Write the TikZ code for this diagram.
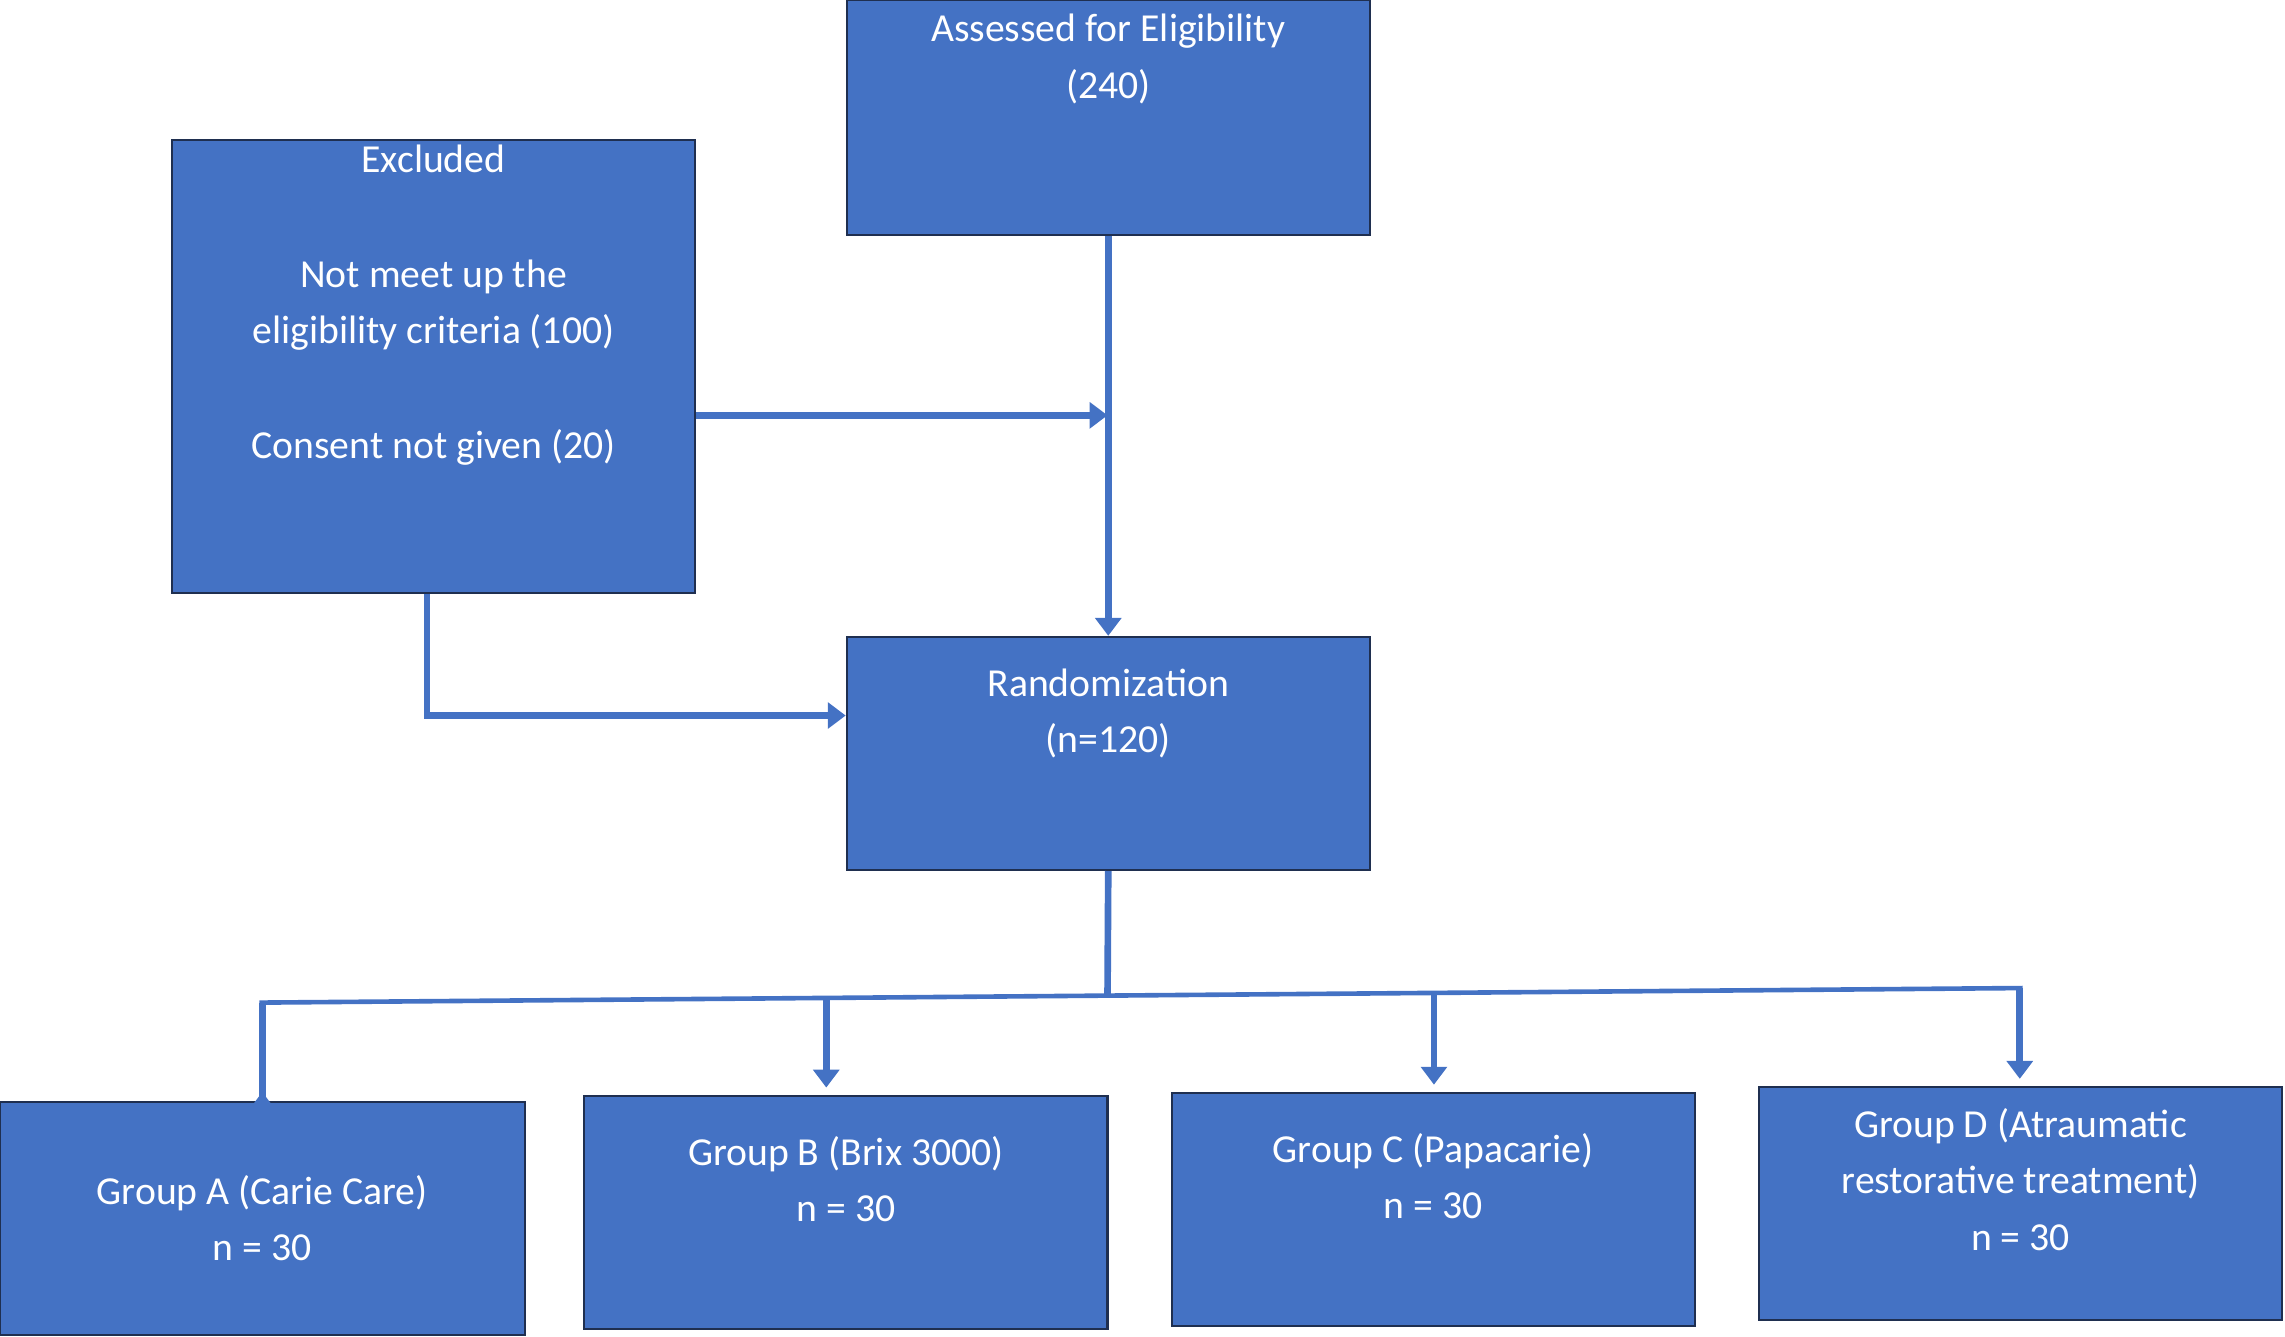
\documentclass[tikz,border=0pt]{standalone}
\usepackage{fontspec}
\setmainfont{Carlito}
\usetikzlibrary{arrows.meta}
\definecolor{bfill}{HTML}{4472C4}
\definecolor{bdraw}{HTML}{1F2F50}
\begin{document}
\begin{tikzpicture}[x=0.02cm,y=-0.02cm,
  box/.style={draw=bdraw,line width=0.8pt,fill=bfill,text=white,align=center,inner sep=0pt,
    font=\fontsize{15.5}{22}\selectfont},
  conn/.style={draw=bfill,line width=2.6pt,-{Triangle[length=7pt,width=10pt]}},
  plain/.style={draw=bfill,line width=2.6pt}]
\useasboundingbox (0,0) rectangle (1568,917);
\node[box,minimum width=7.18cm,minimum height=3.22cm] (ass) at (760.5,80.5) {Assessed for Eligibility\\(240)\\[0.9cm]};
\node[box,minimum width=7.18cm,minimum height=6.22cm] (exc) at (297.5,251.5) {Excluded\\[0.8cm]Not meet up the\\eligibility criteria (100)\\[0.8cm]Consent not given (20)\\[1.0cm]};
\node[box,minimum width=7.18cm,minimum height=3.2cm] (rand) at (760.5,517) {Randomization\\(n=120)\\[0.4cm]};
\node[box,minimum width=7.2cm,minimum height=3.2cm] (ga) at (180,836) {Group A (Carie Care)\\n = 30};
\node[box,minimum width=7.18cm,minimum height=3.2cm] (gb) at (580.5,832) {Group B (Brix 3000)\\n = 30\\[0.15cm]};
\node[box,minimum width=7.18cm,minimum height=3.2cm] (gc) at (983.5,830) {Group C (Papacarie)\\n = 30\\[0.15cm]};
\node[box,minimum width=7.18cm,minimum height=3.2cm] (gd) at (1386.5,826) {Group D (Atraumatic\\restorative treatment)\\n = 30\\[-0.1cm]};
\coordinate (m) at (760,285);
\draw[conn] (ass.south) -- (rand.north);
\draw[conn] (exc.east|-m) -- (m);
\coordinate (e1) at (293,491);
\draw[conn] (exc.south-|e1) -- (e1) -- (rand.west|-e1);
\coordinate (r1) at (760,682);
\draw[plain] (rand.south) -- (r1);
\coordinate (la) at (178,688);
\coordinate (ld) at (1388,678);
\draw[draw=bfill,line width=1.8pt] (la) -- (ld);
\coordinate (ta) at (180,688); \coordinate (tb) at (567,685);
\coordinate (tc) at (984,682); \coordinate (td) at (1386,678);
\draw[conn] (ta) -- (ta|-ga.north) ++(0,-6);
\draw[conn] (tb) -- ([yshift=0.1cm]tb|-gb.north);
\draw[conn] (tc) -- ([yshift=0.1cm]tc|-gc.north);
\draw[conn] (td) -- ([yshift=0.1cm]td|-gd.north);
\end{tikzpicture}
\end{document}
